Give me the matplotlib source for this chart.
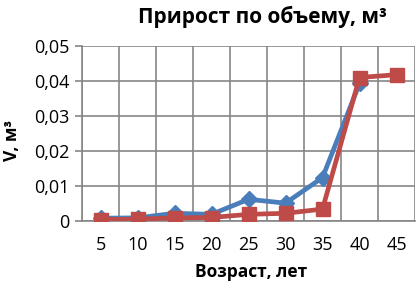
import matplotlib.pyplot as plt
from matplotlib.ticker import FuncFormatter

vozrast = [5, 10, 15, 20, 25, 30, 35, 40, 45]
blue_x = [5, 10, 15, 20, 25, 30, 35, 40]
blue_y = [0.0008, 0.0009, 0.0022, 0.0019, 0.0062, 0.0051, 0.0124, 0.0393]
red_y = [0.0004, 0.0005, 0.0009, 0.0010, 0.0019, 0.0022, 0.0034, 0.0410, 0.0418]

plt.rcParams['font.family'] = ['Open Sans', 'DejaVu Sans']

fig = plt.figure(figsize=(4.18, 2.9), dpi=100)
ax = fig.add_axes([82/418, 1-221/290, 333/418, 175/290])

pos = {v: i for i, v in enumerate(vozrast)}
bx = [pos[v] for v in blue_x]
rx = [pos[v] for v in vozrast]

ax.plot(bx, blue_y, color="#4a7ebb", linewidth=3.4, marker="D", markersize=8,
        zorder=3)
ax.plot(rx, red_y, color="#be4b48", linewidth=3.4, marker="s", markersize=10,
        zorder=4)

ax.set_xlim(-0.5, 8.5)
ax.set_ylim(0, 0.05)
ax.set_xticks(range(len(vozrast)))
ax.set_xticklabels([str(v) for v in vozrast])
ax.set_xticks([i - 0.5 for i in range(len(vozrast) + 1)], minor=True)
ax.set_yticks([0, 0.01, 0.02, 0.03, 0.04, 0.05])
ax.yaxis.set_major_formatter(FuncFormatter(
    lambda v, p: "0" if v == 0 else f"{v:.2f}".replace(".", ",")))

ax.grid(True, which="minor", axis="x", color="#868686", linewidth=1.2)
ax.grid(True, which="major", axis="y", color="#868686", linewidth=1.2)
ax.tick_params(axis="x", which="both", length=0, labelsize=13, pad=11)
ax.tick_params(axis="y", length=5, color="#868686", width=1.2, labelsize=13, pad=4)
for s in ["top", "right"]:
    ax.spines[s].set_visible(False)
for s in ["left", "bottom"]:
    ax.spines[s].set_color("#868686")
    ax.spines[s].set_linewidth(1.2)

fig.text(263/418, 1-17/290, "Прирост по объему, м³", ha="center", va="center",
         fontsize=15, fontweight="bold")
fig.text(251/418, 1-272/290, "Возраст, лет", ha="center", va="center",
         fontsize=12.5, fontweight="bold")
fig.text(12/418, 1-140/290, "V, м³", ha="center", va="center", rotation=90,
         fontsize=12.5, fontweight="bold")

fig.savefig("out.png", dpi=100)
